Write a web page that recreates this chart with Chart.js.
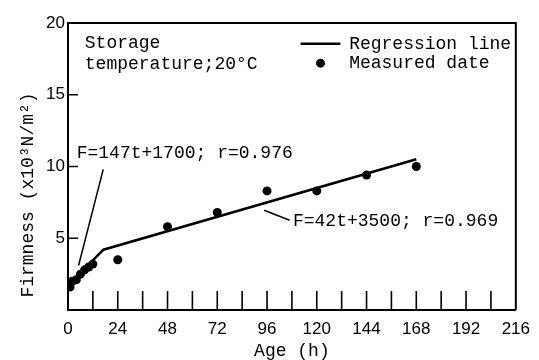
<!DOCTYPE html>
<html>
<head>
<meta charset="utf-8">
<title>Firmness vs Age</title>
<script src="https://cdn.jsdelivr.net/npm/chart.js@4/dist/chart.umd.min.js"></script>
<style>
    html, body { margin: 0; padding: 0; background: #fff; }
    #wrap { width: 539px; height: 360px; }
</style>
</head>
<body>
<div id="wrap"><canvas id="firmnessChart"></canvas></div>
<script>
// measured firmness (x10^3 N/m^2) against storage age (h)
const measuredAge = [1, 2, 4, 6, 8, 10, 12, 24, 48, 72, 96, 120, 144, 168];
const measuredFirmness = [1.6, 2.0, 2.1, 2.5, 2.8, 3.0, 3.2, 3.5, 5.8, 6.8, 8.3, 8.3, 9.4, 10.0];

// regression line: start, break point, end
const regressionAge = [1, 17.1, 168];
const regressionFirmness = [1.85, 4.2, 10.5];

const xTicks = [0, 24, 48, 72, 96, 120, 144, 168, 192, 216];
const yTicks = [0, 5, 10, 15, 20];

const labelFit = 'F=147t+1700; r=0.976';
const labelFit2 = 'F=42t+3500; r=0.969';

const monoFont = '"Liberation Mono", "DejaVu Sans Mono", monospace';
const sansFont = '"Liberation Sans", Arial, sans-serif';

function toPoints(xs, ys) {
    return xs.map((x, i) => ({ x: x, y: ys[i] }));
}

const decorations = {
    id: 'decorations',
    afterDraw(chart) {
        const ctx = chart.ctx;
        const area = chart.chartArea;
        const xs = chart.scales.x;
        const ys = chart.scales.y;
        const px = v => xs.getPixelForValue(v);
        const py = v => ys.getPixelForValue(v);

        ctx.save();
        ctx.strokeStyle = '#000';
        ctx.fillStyle = '#000';

        // frame top and right
        ctx.lineWidth = 2;
        ctx.beginPath();
        ctx.moveTo(area.left, area.top);
        ctx.lineTo(area.right, area.top);
        ctx.lineTo(area.right, area.bottom);
        ctx.stroke();

        // inward tick marks
        ctx.lineWidth = 1.6;
        ctx.beginPath();
        xs.ticks.forEach(t => {
            if (t.value <= xs.min || t.value >= xs.max) return;
            const x = px(t.value);
            ctx.moveTo(x, area.bottom);
            ctx.lineTo(x, area.bottom - 19);
        });
        ys.ticks.forEach(t => {
            if (t.value <= ys.min || t.value >= ys.max) return;
            const y = py(t.value);
            ctx.moveTo(area.left, y);
            ctx.lineTo(area.left + 10, y);
        });
        ctx.stroke();

        // leader lines for the two equations
        ctx.lineWidth = 1.5;
        ctx.beginPath();
        ctx.moveTo(px(17), py(9.8));
        ctx.lineTo(px(5.1), py(3.1));
        ctx.moveTo(px(94.6), py(6.95));
        ctx.lineTo(px(106.9), py(6.25));
        ctx.stroke();

        ctx.font = '18px ' + monoFont;
        ctx.textBaseline = 'middle';
        ctx.textAlign = 'left';
        ctx.fillText(labelFit, px(4.2), py(10.95));
        ctx.fillText(labelFit2, px(108.5), py(6.2));

        // storage note
        ctx.fillText('Storage', px(8.1), py(18.6));
        ctx.fillText('temperature;20\u00b0C', px(8.1), py(17.1));

        // legend
        const lineSet = chart.data.datasets[0];
        const dotSet = chart.data.datasets[1];
        ctx.lineWidth = lineSet.borderWidth;
        ctx.beginPath();
        ctx.moveTo(px(112.2), py(18.55));
        ctx.lineTo(px(131.4), py(18.55));
        ctx.stroke();
        ctx.beginPath();
        ctx.arc(px(121.8), py(17.2), dotSet.pointRadius, 0, Math.PI * 2);
        ctx.fill();
        ctx.fillText('Regression line', px(135.6), py(18.55));
        ctx.fillText('Measured date', px(135.6), py(17.2));

        // y axis title
        ctx.translate(28, 195);
        ctx.rotate(-Math.PI / 2);
        ctx.textAlign = 'center';
        ctx.fillText('Firmness (x10\u00b3N/m\u00b2)', 0, 0);
        ctx.restore();
    }
};

function initializeChart() {
    const ctx = document.getElementById('firmnessChart').getContext('2d');

    new Chart(ctx, {
        type: 'scatter',
        data: {
            datasets: [{
                label: 'Regression line',
                data: toPoints(regressionAge, regressionFirmness),
                showLine: true,
                borderColor: '#000',
                borderWidth: 2.5,
                pointRadius: 0,
                tension: 0
            }, {
                label: 'Measured date',
                data: toPoints(measuredAge, measuredFirmness),
                backgroundColor: '#000',
                borderWidth: 0,
                pointRadius: 4.5
            }]
        },
        options: {
            responsive: true,
            maintainAspectRatio: false,
            animation: false,
            layout: { padding: { top: 23, right: 19, left: 0, bottom: 0 } },
            plugins: {
                legend: { display: false },
                tooltip: { enabled: false }
            },
            scales: {
                x: {
                    type: 'linear',
                    min: xTicks[0],
                    max: xTicks[xTicks.length - 1],
                    grid: { display: false, drawTicks: false },
                    border: { display: true, color: '#000', width: 2 },
                    ticks: {
                        stepSize: 12,
                        autoSkip: false,
                        maxRotation: 0,
                        padding: 9,
                        color: '#000',
                        font: { family: sansFont, size: 17 },
                        callback: v => xTicks.includes(v) ? String(v) : ''
                    },
                    title: {
                        display: true,
                        text: 'Age (h)',
                        color: '#000',
                        font: { family: monoFont, size: 18, lineHeight: 1 },
                        padding: { top: 0, bottom: 0 }
                    },
                    afterFit: scale => { scale.height = 50; }
                },
                y: {
                    min: yTicks[0],
                    max: yTicks[yTicks.length - 1],
                    grid: { display: false, drawTicks: false },
                    border: { display: true, color: '#000', width: 2 },
                    ticks: {
                        stepSize: 5,
                        padding: 3,
                        color: '#000',
                        font: { family: sansFont, size: 17 },
                        callback: v => (v === 0 || !yTicks.includes(v)) ? '' : String(v)
                    },
                    afterFit: scale => { scale.width = 68; }
                }
            }
        },
        plugins: [decorations]
    });
}

document.addEventListener('DOMContentLoaded', initializeChart);
</script>
</body>
</html>
